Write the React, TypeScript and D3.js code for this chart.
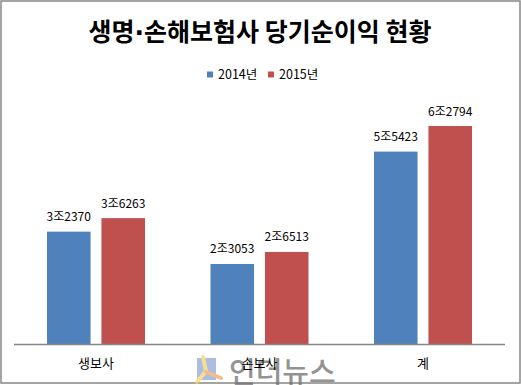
import React from 'react';
import * as d3 from 'd3';

const categories = ['생보사', '손보사', '계'];
const seriesNames = ['2014년', '2015년'];
const values2014 = [3.237, 2.3053, 5.5423];
const values2015 = [3.6263, 2.6513, 6.2794];
const colors = ['#4F81BD', '#C0504D'];

const W = 521;
const H = 385;
const FONT = '"Noto Sans CJK KR", "Noto Sans", sans-serif';

function fmt(v: number) {
  const jo = Math.floor(v);
  const rest = Math.round((v - jo) * 10000);
  return `${jo}조${String(rest).padStart(4, '0')}`;
}

export default function App() {
  const x = d3.scaleBand<string>().domain(categories).range([14.25, 504.75]).padding(0);
  const inner = d3
    .scaleBand<string>()
    .domain(seriesNames)
    .range([32.75, x.bandwidth() - 32.75])
    .paddingInner(0.2)
    .paddingOuter(0);
  const y = d3.scaleLinear().domain([0, 7]).range([344, 101]);
  const series = [values2014, values2015];

  return (
    <svg
      width={W}
      height={H}
      style={{ position: 'absolute', left: 0, top: 0, fontFamily: FONT }}
    >
      <rect x={0} y={0} width={W} height={H} fill="#fff" />
      <rect x={1} y={1} width={519} height={382} fill="#fff" stroke="#868686" strokeWidth={1.5} />
      <text x={260} y={41} textAnchor="middle" fontSize={25} fontWeight="bold" fill="#000">
        생명<tspan fontFamily='"DejaVu Sans", sans-serif'>·</tspan>손해보험사 당기순이익 현황
      </text>
      {/* legend */}
      {seriesNames.map((s, i) => {
        const lx = i === 0 ? 207 : 268;
        return (
          <g key={s}>
            <rect x={lx} y={71.5} width={6} height={6} fill={colors[i]} />
            <text x={lx + 11} y={78.5} fontSize={12.5} fill="#000">
              {s}
            </text>
          </g>
        );
      })}
      {/* bars */}
      {categories.map((c, ci) => (
        <g key={c} transform={`translate(${x(c)},0)`}>
          {series.map((vals, si) => {
            const bx = inner(seriesNames[si])!;
            const v = vals[ci];
            return (
              <g key={si}>
                <rect
                  x={bx}
                  y={y(v)}
                  width={inner.bandwidth()}
                  height={y(0) - y(v)}
                  fill={colors[si]}
                />
                <text
                  x={bx + inner.bandwidth() / 2}
                  y={y(v) - 10.5}
                  textAnchor="middle"
                  fontSize={12}
                  fill="#000"
                >
                  {fmt(v)}
                </text>
              </g>
            );
          })}
        </g>
      ))}
      <line x1={14} x2={505} y1={344.5} y2={344.5} stroke="#868686" strokeWidth={1.5} />
      {/* watermark */}
      <g opacity={0.75}>
        <rect x={197} y={358} width={19} height={22} fill="#8FA8D8" />
        <path d="M203 357 L206 371 L197 382" stroke="#F5D36B" strokeWidth={4} fill="none" strokeLinecap="round" />
        <path d="M206 372 L221 378" stroke="#F0A868" strokeWidth={4} fill="none" strokeLinecap="round" />
        <text x={229} y={383} fontSize={29} fill="#707070" fontWeight="500">
          인더뉴스
        </text>
      </g>
      {/* category labels */}
      {categories.map((c) => (
        <text
          key={c}
          x={x(c)! + x.bandwidth() / 2}
          y={368}
          textAnchor="middle"
          fontSize={13}
          fill="#000"
        >
          {c}
        </text>
      ))}
    </svg>
  );
}
